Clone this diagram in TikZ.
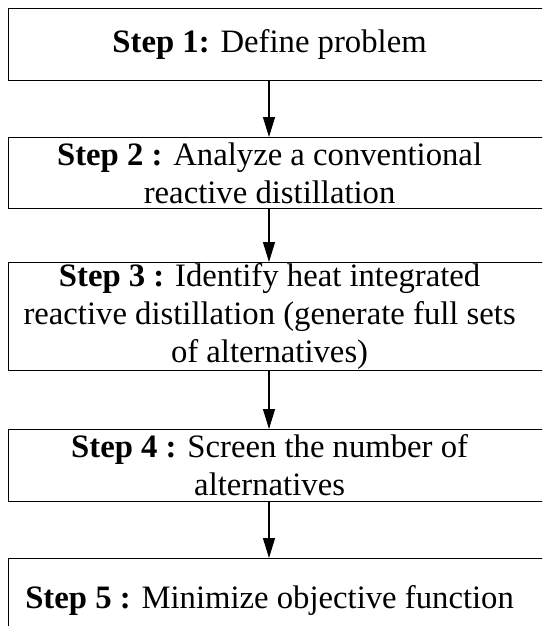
\documentclass[tikz,border=0pt]{standalone}
\usepackage{fontspec}
\setmainfont{Liberation Serif}
\usetikzlibrary{arrows.meta}

\tikzset{
  stepbox/.style={draw, line width=1.2pt, anchor=north west, inner sep=0pt,
    minimum width=560pt, font=\fontsize{32.7}{38}\selectfont},
  flow/.style={line width=1.2pt, -{Triangle[length=20pt,width=12pt]}}
}
% centred step text: a 522pt column plus a spacer, so the text sits at x=269
\newcommand{\steptext}[1]{\parbox{522pt}{\centering #1}\hspace*{38pt}}

\begin{document}
\begin{tikzpicture}[x=1pt, y=-1pt]
  \useasboundingbox (0,0) rectangle (542,626);
  \clip (0,0) rectangle (542,626);
  \fill[white] (0,0) rectangle (542,626);

  \coordinate (axis) at (269,0);

  \node[stepbox, minimum height=72pt] (s1) at (8,8)
    {\steptext{\textbf{Step 1:} Define problem}};
  \node[stepbox, minimum height=71pt] (s2) at (8,137)
    {\steptext{\textbf{Step 2 :} Analyze a conventional\\ reactive distillation}};
  \node[stepbox, minimum height=108pt] (s3) at (8,262)
    {\steptext{\textbf{Step 3 :} Identify heat integrated\\ reactive distillation (generate full sets\\ of alternatives)}};
  \node[stepbox, minimum height=72pt] (s4) at (8,429)
    {\steptext{\textbf{Step 4 :} Screen the number of\\ alternatives}};
  \node[stepbox, minimum height=84pt] (s5) at (8,558)
    {\steptext{\textbf{Step 5 :} Minimize objective function}};

  \draw[flow] (s1.south -| axis) -- (s2.north -| axis);
  \draw[flow] (s2.south -| axis) -- (s3.north -| axis);
  \draw[flow] (s3.south -| axis) -- (s4.north -| axis);
  \draw[flow] (s4.south -| axis) -- (s5.north -| axis);
\end{tikzpicture}
\end{document}
